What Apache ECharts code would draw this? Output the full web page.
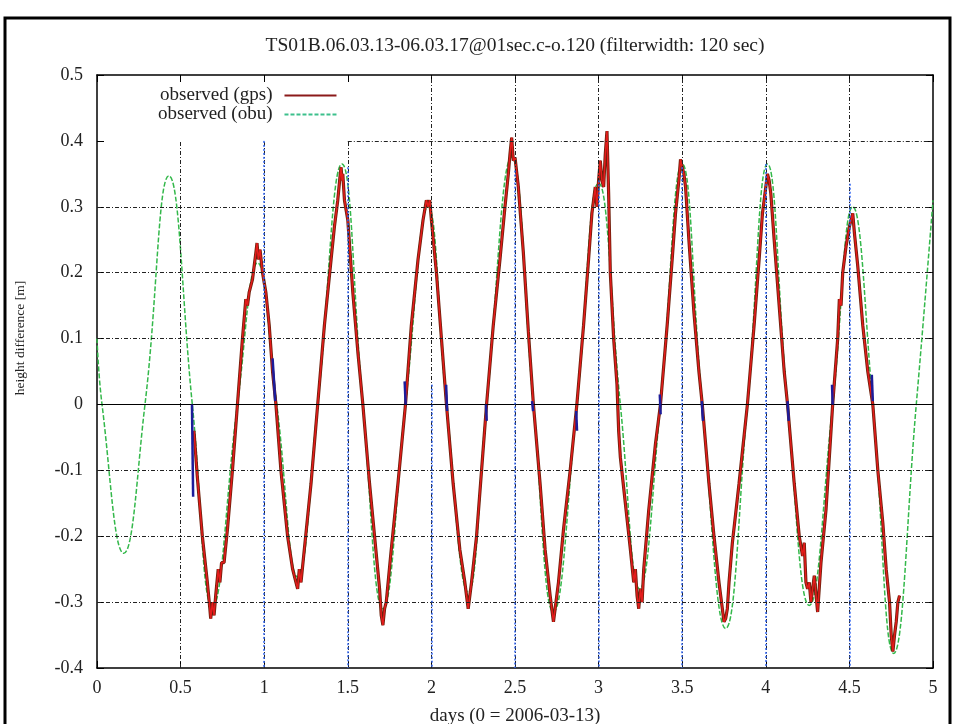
<!DOCTYPE html>
<html>
<head>
<meta charset="utf-8">
<script src="https://cdn.jsdelivr.net/npm/echarts@6/dist/echarts.min.js"></script>
<style>html,body{margin:0;padding:0;background:#fff;}#c{width:954px;height:724px;}</style>
</head>
<body>
<div id="c"></div>
<script>
// ---- data ----
const titleText = 'TS01B.06.03.13-06.03.17@01sec.c-o.120 (filterwidth: 120 sec)';
const xTicks = [0, 0.5, 1, 1.5, 2, 2.5, 3, 3.5, 4, 4.5, 5];
const yTicks = [-0.4, -0.3, -0.2, -0.1, 0, 0.1, 0.2, 0.3, 0.4, 0.5];

// observed (obu) - green
const obuDays = [0.0, 0.03, 0.16, 0.287, 0.43, 0.57, 0.69, 0.84, 0.96, 1.075, 1.2, 1.32, 1.465, 1.59, 1.71, 1.845, 1.98, 2.09, 2.22, 2.33, 2.48, 2.61, 2.73, 2.87, 3.0, 3.13, 3.245, 3.37, 3.5, 3.62, 3.76, 3.89, 4.01, 4.13, 4.26, 4.40, 4.52, 4.64, 4.765, 4.90, 5.0];
const obuHeight = [0.10, 0.0, -0.226, 0.0, 0.347, 0.0, -0.307, 0.0, 0.215, 0.0, -0.262, 0.0, 0.365, 0.0, -0.31, 0.0, 0.30, 0.0, -0.285, 0.0, 0.375, 0.0, -0.315, 0.0, 0.336, 0.0, -0.28, 0.0, 0.365, 0.0, -0.34, 0.0, 0.365, 0.0, -0.305, 0.0, 0.30, 0.0, -0.378, 0.0, 0.31];

// observed (gps) - red
const gpsDays = [0.58, 0.60, 0.63, 0.66, 0.675, 0.68, 0.69, 0.70, 0.71, 0.725, 0.735, 0.745, 0.76, 0.78, 0.81, 0.84, 0.87, 0.89, 0.90, 0.91, 0.93, 0.95, 0.957, 0.965, 0.975, 0.99, 1.01, 1.03, 1.05, 1.07, 1.10, 1.14, 1.17, 1.19, 1.20, 1.21, 1.22, 1.24, 1.28, 1.32, 1.36, 1.40, 1.42, 1.44, 1.455, 1.46, 1.465, 1.47, 1.48, 1.50, 1.53, 1.56, 1.59, 1.63, 1.66, 1.69, 1.70, 1.71, 1.72, 1.73, 1.76, 1.80, 1.845, 1.88, 1.92, 1.95, 1.97, 1.98, 1.99, 2.00, 2.03, 2.06, 2.09, 2.13, 2.17, 2.20, 2.21, 2.22, 2.23, 2.24, 2.27, 2.30, 2.33, 2.37, 2.41, 2.44, 2.46, 2.47, 2.48, 2.49, 2.50, 2.52, 2.55, 2.58, 2.61, 2.65, 2.68, 2.71, 2.72, 2.73, 2.74, 2.76, 2.79, 2.83, 2.87, 2.91, 2.94, 2.96, 2.97, 2.98, 2.99, 3.00, 3.01, 3.02, 3.03, 3.04, 3.05, 3.06, 3.07, 3.09, 3.11, 3.12, 3.13, 3.16, 3.19, 3.21, 3.22, 3.23, 3.24, 3.25, 3.26, 3.27, 3.30, 3.34, 3.37, 3.41, 3.44, 3.46, 3.48, 3.49, 3.50, 3.51, 3.52, 3.54, 3.57, 3.60, 3.62, 3.66, 3.69, 3.72, 3.74, 3.75, 3.76, 3.77, 3.78, 3.80, 3.84, 3.89, 3.93, 3.96, 3.98, 4.00, 4.01, 4.02, 4.03, 4.05, 4.08, 4.11, 4.13, 4.17, 4.20, 4.22, 4.23, 4.24, 4.25, 4.26, 4.27, 4.29, 4.31, 4.33, 4.36, 4.40, 4.43, 4.44, 4.45, 4.46, 4.48, 4.50, 4.51, 4.52, 4.53, 4.55, 4.58, 4.61, 4.64, 4.67, 4.70, 4.72, 4.74, 4.75, 4.76, 4.77, 4.78, 4.79, 4.80];
const gpsHeight = [-0.04, -0.11, -0.2, -0.27, -0.31, -0.325, -0.30, -0.32, -0.29, -0.25, -0.27, -0.24, -0.24, -0.19, -0.10, 0.0, 0.10, 0.16, 0.15, 0.17, 0.19, 0.23, 0.245, 0.22, 0.235, 0.20, 0.17, 0.12, 0.05, 0.0, -0.10, -0.20, -0.25, -0.27, -0.28, -0.25, -0.27, -0.22, -0.12, 0.0, 0.12, 0.22, 0.27, 0.31, 0.35, 0.36, 0.34, 0.35, 0.31, 0.28, 0.17, 0.08, 0.0, -0.12, -0.20, -0.28, -0.32, -0.335, -0.31, -0.30, -0.22, -0.12, 0.0, 0.12, 0.22, 0.28, 0.31, 0.30, 0.31, 0.28, 0.20, 0.10, 0.0, -0.12, -0.22, -0.27, -0.29, -0.31, -0.29, -0.27, -0.20, -0.10, 0.0, 0.12, 0.22, 0.30, 0.35, 0.38, 0.405, 0.37, 0.375, 0.33, 0.23, 0.11, 0.0, -0.12, -0.22, -0.29, -0.31, -0.33, -0.31, -0.27, -0.19, -0.10, 0.0, 0.12, 0.22, 0.29, 0.31, 0.33, 0.30, 0.34, 0.37, 0.34, 0.33, 0.38, 0.415, 0.32, 0.20, 0.10, 0.03, -0.04, -0.08, -0.15, -0.22, -0.27, -0.25, -0.29, -0.31, -0.28, -0.30, -0.25, -0.16, -0.06, 0.0, 0.12, 0.22, 0.29, 0.34, 0.372, 0.36, 0.35, 0.33, 0.25, 0.14, 0.05, 0.0, -0.12, -0.20, -0.27, -0.31, -0.33, -0.325, -0.31, -0.27, -0.21, -0.12, 0.0, 0.12, 0.22, 0.29, 0.33, 0.35, 0.34, 0.32, 0.25, 0.15, 0.05, 0.0, -0.12, -0.20, -0.23, -0.21, -0.27, -0.28, -0.27, -0.30, -0.26, -0.315, -0.24, -0.16, 0.0, 0.10, 0.16, 0.15, 0.20, 0.24, 0.27, 0.28, 0.29, 0.26, 0.21, 0.12, 0.05, 0.0, -0.10, -0.18, -0.25, -0.30, -0.35, -0.375, -0.35, -0.33, -0.30, -0.29];

// short dark-blue segments near zero crossings: [startDay, startHeight] -> [endDay, endHeight]
const blueSegStartDay = [0.568, 1.05, 1.840, 2.088, 2.326, 2.602, 2.866, 3.366, 3.617, 4.130, 4.396, 4.634];
const blueSegStartH   = [0.0, 0.07, 0.035, 0.03, 0.0, 0.005, -0.01, 0.015, 0.005, 0.005, 0.03, 0.045];
const blueSegEndDay   = [0.575, 1.066, 1.846, 2.094, 2.331, 2.608, 2.871, 3.371, 3.624, 4.137, 4.40, 4.64];
const blueSegEndH     = [-0.14, 0.005, 0.0, -0.01, -0.025, -0.01, -0.04, -0.015, -0.025, -0.025, 0.0, 0.005];

// blue dotted vertical markers
const markerDays = [1, 1.5, 2, 2.5, 3, 3.5, 4, 4.5];
const markerTop  = [0.4, 0.36, 0.03, 0.355, 0.34, 0.36, 0.365, 0.335];

// ---- build ----
const FONT = 'Liberation Serif';
const xMin = xTicks[0], xMax = xTicks[xTicks.length - 1];
const yMin = yTicks[0], yMax = yTicks[yTicks.length - 1];

const gridSegs = [];
xTicks.slice(1, -1).forEach(x => {
  const top = x <= 1.5 ? 0.4 : yMax;   // legend box clears the upper-left area
  gridSegs.push([{coord: [x, yMin]}, {coord: [x, top]}]);
});
yTicks.slice(1, -1).forEach(y => {
  if (y === 0) return;
  const left = y >= 0.4 ? 1.5 : xMin;
  gridSegs.push([{coord: [left, y]}, {coord: [xMax, y]}]);
});

const blueSegs = blueSegStartDay.map((d, i) => [
  {coord: [d, blueSegStartH[i]]}, {coord: [blueSegEndDay[i], blueSegEndH[i]]}
]);
const markerSegs = markerDays.map((d, i) => [{coord: [d, markerTop[i]]}, {coord: [d, yMin]}]);

const obuData = obuDays.map((d, i) => [d, obuHeight[i]]);
const gpsData = gpsDays.map((d, i) => [d, gpsHeight[i]]);

// legend icons: a solid line and a dashed line
const solidIcon = 'path://M0,0H52V2H0Z';
let dashPath = '';
for (let i = 0; i < 52; i += 6) dashPath += 'M' + i + ',0h4v2h-4Z';
const dashIcon = 'path://' + dashPath;

const axisCommon = {
  type: 'value', min: xMin, max: xMax, interval: 0.5,
  axisLine: {onZero: false, lineStyle: {color: '#000', width: 1.5}},
  axisTick: {inside: true, length: 7, lineStyle: {color: '#000', width: 1}},
  splitLine: {show: false}
};

const chart = echarts.init(document.getElementById('c'), null, {renderer: 'canvas'});
chart.setOption({
  animation: false,
  backgroundColor: '#fff',
  grid: {left: 97, right: 21, top: 75, bottom: 56},
  legend: {
    data: [
      {name: 'observed (gps)', icon: solidIcon, itemStyle: {color: '#8b1a1a', borderWidth: 0}},
      {name: 'observed (obu)', icon: dashIcon, itemStyle: {color: '#3cc08c', borderWidth: 0}}
    ],
    orient: 'vertical', align: 'right', left: 153, top: 81,
    itemWidth: 52, itemHeight: 2, itemGap: 0,
    textStyle: {fontFamily: FONT, fontSize: 19, color: '#222', padding: [0, 7, 0, 0]}
  },
  xAxis: [
    Object.assign({}, axisCommon, {
      position: 'bottom',
      axisLabel: {fontFamily: FONT, fontSize: 18, color: '#222', margin: 11,
        formatter: v => String(Math.round(v * 10) / 10)}
    }),
    Object.assign({}, axisCommon, {position: 'top', axisLabel: {show: false}})
  ],
  yAxis: [
    Object.assign({}, axisCommon, {
      min: yMin, max: yMax, interval: 0.1, position: 'left',
      axisLabel: {fontFamily: FONT, fontSize: 18, color: '#222', margin: 14,
        formatter: v => String(Math.round(v * 10) / 10)}
    }),
    Object.assign({}, axisCommon, {min: yMin, max: yMax, interval: 0.1, position: 'right', axisLabel: {show: false}})
  ],
  graphic: [
    {type: 'rect', shape: {x: 5, y: 18, width: 945, height: 740}, style: {fill: 'none', stroke: '#000', lineWidth: 3}, z: 100},
    {type: 'text', x: 515, y: 46, style: {text: titleText, font: '19.5px "Liberation Serif"', fill: '#222', textAlign: 'center', textVerticalAlign: 'middle'}},
    {type: 'text', x: 515, y: 716, style: {text: 'days (0 = 2006-03-13)', font: '19px "Liberation Serif"', fill: '#222', textAlign: 'center', textVerticalAlign: 'middle'}},
    {type: 'text', x: 20, y: 338, rotation: Math.PI / 2, style: {text: 'height difference [m]', font: '13.5px "Liberation Serif"', fill: '#222', textAlign: 'center', textVerticalAlign: 'middle'}}
  ],
  series: [
    {
      type: 'line', data: [], z: 1, silent: true,
      markLine: {silent: true, symbol: ['none', 'none'], label: {show: false}, animation: false,
        lineStyle: {type: [4, 2, 1, 2], color: '#222', width: 1},
        emphasis: {disabled: true},
        data: gridSegs.concat([[{coord: [xMin, 0], lineStyle: {type: 'solid', color: '#000', width: 1.2}}, {coord: [xMax, 0]}]])}
    },
    {
      name: 'observed (obu)', type: 'line', data: obuData, smooth: 0.45, symbol: 'none', z: 2,
      lineStyle: {color: '#33b84a', width: 1.5, type: [5, 2]}
    },
    {
      name: 'gps-outline', type: 'line', data: gpsData, symbol: 'none', z: 3,
      lineStyle: {color: '#6e200c', width: 3.2}
    },
    {
      name: 'observed (gps)', type: 'line', data: gpsData, symbol: 'none', z: 4,
      lineStyle: {color: '#e41b1b', width: 1.5}
    },
    {
      type: 'line', data: [], z: 5, silent: true,
      markLine: {silent: true, symbol: ['none', 'none'], label: {show: false}, animation: false,
        lineStyle: {type: 'solid', color: '#1c1c9a', width: 2.5},
        data: blueSegs}
    },
    {
      type: 'line', data: [], z: 6, silent: true,
      markLine: {silent: true, symbol: ['none', 'none'], label: {show: false}, animation: false,
        lineStyle: {type: [2, 2], color: '#2f63f0', width: 1.5},
        data: markerSegs}
    }
  ]
});
</script>
</body>
</html>
